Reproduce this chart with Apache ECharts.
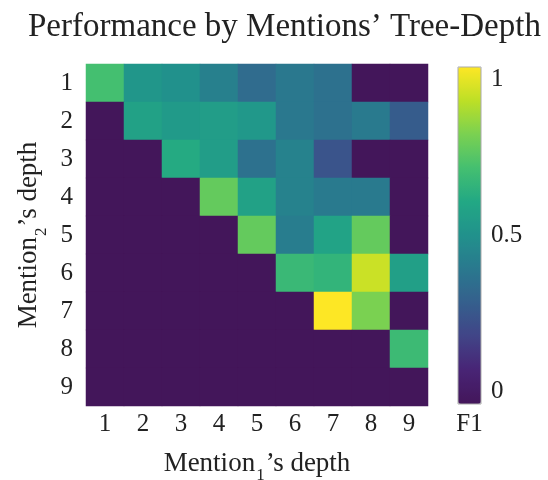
<!DOCTYPE html>
<html><head><meta charset="utf-8">
<script src="https://cdn.jsdelivr.net/npm/echarts@6/dist/echarts.min.js"></script>
<style>html,body{margin:0;padding:0;background:#fff}#c{width:548px;height:480px}</style>
</head><body><div id="c"></div>
<script>
const depthsX = ['1','2','3','4','5','6','7','8','9'];
const depthsY = ['1','2','3','4','5','6','7','8','9'];
const colorbarTicks = [0, 0.5, 1];
// rows = Mention2 depth (1..9), columns = Mention1 depth (1..9)
const row1 = [0.70, 0.52, 0.50, 0.43, 0.35, 0.40, 0.37, 0.00, 0.00];
const row2 = [0.00, 0.57, 0.54, 0.55, 0.53, 0.40, 0.37, 0.41, 0.29];
const row3 = [0.00, 0.00, 0.61, 0.55, 0.37, 0.44, 0.26, 0.00, 0.00];
const row4 = [0.00, 0.00, 0.00, 0.76, 0.57, 0.44, 0.41, 0.41, 0.00];
const row5 = [0.00, 0.00, 0.00, 0.00, 0.76, 0.42, 0.58, 0.76, 0.00];
const row6 = [0.00, 0.00, 0.00, 0.00, 0.00, 0.67, 0.65, 0.92, 0.56];
const row7 = [0.00, 0.00, 0.00, 0.00, 0.00, 0.00, 1.00, 0.80, 0.00];
const row8 = [0.00, 0.00, 0.00, 0.00, 0.00, 0.00, 0.00, 0.00, 0.68];
const row9 = [0.00, 0.00, 0.00, 0.00, 0.00, 0.00, 0.00, 0.00, 0.00];
const rows = [row1,row2,row3,row4,row5,row6,row7,row8,row9];

const data = [];
rows.forEach((r, yi) => r.forEach((v, xi) => data.push([xi, yi, v])));

const viridis = ['#43165a','#482475','#414487','#355f8d','#2a788e','#21918c','#22a884','#44bf70','#7ad151','#bddf26','#fde725'];
const FONT = '"Liberation Serif", "Times New Roman", serif';
const richName = {
  a: {fontFamily: FONT, fontSize: 27, color: '#222', lineHeight: 30, verticalAlign: 'bottom'},
  s: {fontFamily: FONT, fontSize: 17, color: '#222', lineHeight: 17, verticalAlign: 'bottom', padding: [0,1,-7,1]}
};

const chart = echarts.init(document.getElementById('c'), null, {renderer:'canvas'});
chart.setOption({
  animation: false,
  backgroundColor: '#fff',
  title: {
    text: 'Performance by Mentions’ Tree-Depth',
    left: 23, top: 6,
    textStyle: {fontFamily: FONT, fontSize: 33, fontWeight: 'normal', color: '#222'}
  },
  grid: [
    {left: 86, top: 64, width: 342, height: 342, outerBoundsMode: 'none', containLabel: false},
    {left: 458, top: 67, width: 23, height: 337, show: true, borderColor: '#aaa', borderWidth: 1,
     backgroundColor: 'transparent', z: 10, outerBoundsMode: 'none', containLabel: false}
  ],
  xAxis: [
    {type: 'category', data: depthsX, gridIndex: 0,
     axisLine: {show: false}, axisTick: {show: false}, splitLine: {show: false},
     axisLabel: {fontFamily: FONT, fontSize: 25, color: '#222', margin: 6},
     name: '{a|Mention}{s|1}{a|’s depth}', nameLocation: 'middle', nameGap: 41,
     nameTextStyle: {rich: richName}},
    {type: 'value', gridIndex: 1, min: 0, max: 1, show: true,
     axisLine: {show: false}, axisTick: {show: false}, splitLine: {show: false}, axisLabel: {show: false},
     name: 'F1', nameLocation: 'middle', nameGap: 8,
     nameTextStyle: {fontFamily: FONT, fontSize: 25, color: '#222'}}
  ],
  yAxis: [
    {type: 'category', data: depthsY, inverse: true, gridIndex: 0,
     axisLine: {show: false}, axisTick: {show: false}, splitLine: {show: false},
     axisLabel: {fontFamily: FONT, fontSize: 25, color: '#222', margin: 13},
     name: '{a|Mention}{s|2}{a|’s depth}', nameLocation: 'middle', nameGap: 41, nameRotate: 90,
     nameTextStyle: {rich: richName}},
    {type: 'value', gridIndex: 1, min: 0, max: 1, interval: 0.5, position: 'right',
     axisLine: {show: false}, axisTick: {show: false}, splitLine: {show: false},
     axisLabel: {fontFamily: FONT, fontSize: 25, color: '#222', margin: 10,
       verticalAlignMinLabel: 'bottom', verticalAlignMaxLabel: 'top',
       formatter: v => colorbarTicks.indexOf(v) >= 0 ? String(v) : ''}}
  ],
  visualMap: {
    type: 'continuous', min: 0, max: 1, calculable: false, seriesIndex: 0,
    orient: 'vertical', left: 458, top: 67, itemWidth: 23, itemHeight: 337,
    padding: 0, text: null, showLabel: false,
    inRange: {color: viridis}
  },
  series: [{
    type: 'heatmap', xAxisIndex: 0, yAxisIndex: 0, data: data,
    itemStyle: {borderWidth: 0}, emphasis: {disabled: true}
  }]
});
</script></body></html>
